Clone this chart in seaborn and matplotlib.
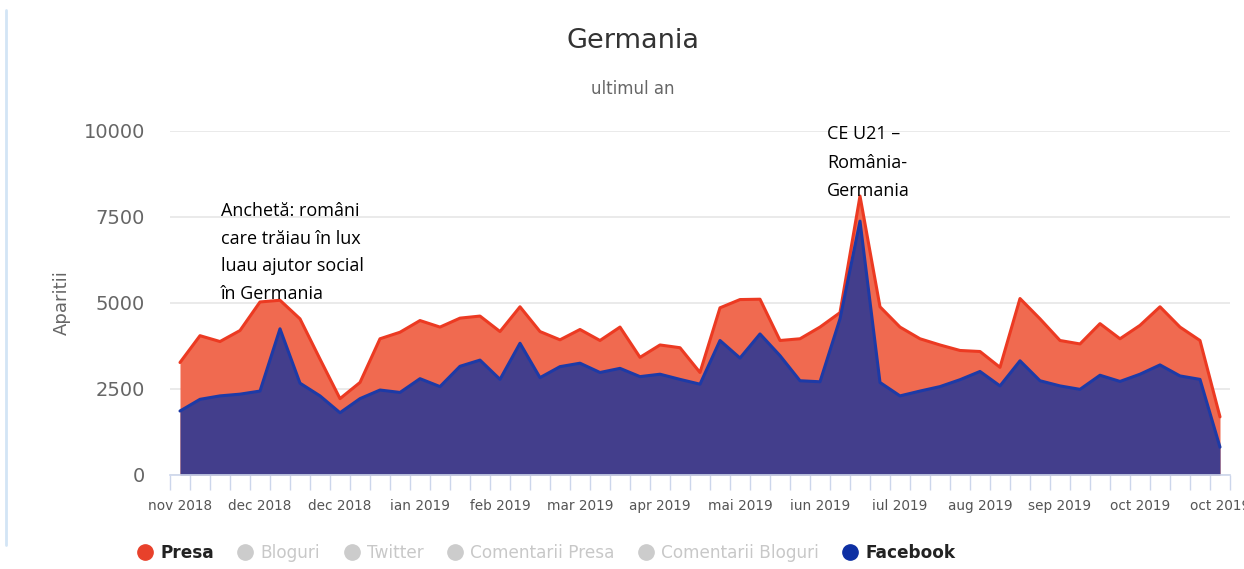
#!/usr/bin/env python3
"""Germania - aparitii pe ultimul an (Presa vs Facebook)."""

import matplotlib

matplotlib.use("Agg")

import matplotlib.pyplot as plt
import pandas as pd
import seaborn as sns
from matplotlib.lines import Line2D


MONTH_LABELS = [
    "nov 2018", "dec 2018", "dec 2018", "ian 2019", "feb 2019", "mar 2019", "apr 2019",
    "mai 2019", "iun 2019", "iul 2019", "aug 2019", "sep 2019", "oct 2019", "oct 2019",
]

# weekly values
PRESA = [
    3270, 4050, 3880, 4200, 5030, 5080, 4540, 3370, 2220, 2690,
    3960, 4150, 4490, 4300, 4560, 4620, 4170, 4890, 4170, 3930,
    4230, 3910, 4300, 3420, 3780, 3700, 2980, 4860, 5100, 5110,
    3910, 3960, 4300, 4720, 8110, 4890, 4300, 3960, 3780, 3620,
    3590, 3130, 5130, 4540, 3910, 3810, 4400, 3960, 4350, 4890,
    4300, 3910, 1690,
]
FACEBOOK = [
    1860, 2200, 2300, 2350, 2440, 4250, 2670, 2300, 1810, 2220,
    2470, 2400, 2800, 2570, 3160, 3340, 2780, 3830, 2830, 3150,
    3250, 2980, 3100, 2860, 2930, 2780, 2640, 3910, 3400, 4100,
    3470, 2740, 2710, 4540, 7380, 2690, 2300, 2440, 2570, 2770,
    3010, 2590, 3320, 2740, 2590, 2490, 2900, 2720, 2930, 3200,
    2880, 2780, 810,
]

Y_TICKS = [0, 2500, 5000, 7500, 10000]

LEGEND_ITEMS = [
    ("Presa", "#e8412b", True),
    ("Bloguri", "#cccccc", False),
    ("Twitter", "#cccccc", False),
    ("Comentarii Presa", "#cccccc", False),
    ("Comentarii Bloguri", "#cccccc", False),
    ("Facebook", "#0d2fa3", True),
]

NOTE_LEFT = ["Anchetă: români", "care trăiau în lux", "luau ajutor social", "în Germania"]
NOTE_PEAK = ["CE U21 –", "România-", "Germania"]

W, H = 1244, 569


def main() -> None:
    sns.set_theme(style="white")
    plt.rcParams["font.family"] = ["DejaVu Sans"]

    data = pd.DataFrame({"week": range(len(PRESA)), "presa": PRESA, "facebook": FACEBOOK})

    fig = plt.figure(figsize=(W / 100, H / 100), dpi=100)
    ax = fig.add_axes([170 / W, 1 - 475 / H, 1060 / W, 344 / H])

    ax.fill_between(data["week"], data["presa"], color="#f06a50", linewidth=0, zorder=2)
    sns.lineplot(data=data, x="week", y="presa", ax=ax, color="#ec3a22", linewidth=2.2, zorder=3)
    ax.fill_between(data["week"], data["facebook"], color="#433e8c", linewidth=0, zorder=4)
    sns.lineplot(data=data, x="week", y="facebook", ax=ax, color="#1d3aa6", linewidth=2.2, zorder=5)

    ax.set_xlim(-0.5, len(PRESA) - 0.5)
    ax.set_ylim(0, 10000)
    ax.set_yticks(Y_TICKS)
    ax.set_yticklabels([str(v) for v in Y_TICKS])
    ax.set_xticks(range(0, len(PRESA), 4))
    ax.set_xticklabels(MONTH_LABELS)
    ax.set_xticks([i - 0.5 for i in range(len(PRESA) + 1)], minor=True)

    ax.tick_params(axis="y", length=0, pad=18, labelsize=14, labelcolor="#666666")
    ax.tick_params(axis="x", which="major", length=0, pad=17, labelsize=9.8, labelcolor="#555555")
    ax.tick_params(axis="x", which="minor", length=11, width=1, color="#ccd6eb", bottom=True)

    ax.grid(axis="y", color="#e6e6e6", linewidth=1.2)
    ax.grid(axis="x", visible=False)
    for side in ["top", "right", "left"]:
        ax.spines[side].set_visible(False)
    ax.spines["bottom"].set_color("#ccd6eb")
    ax.spines["bottom"].set_linewidth(1.2)
    ax.spines["bottom"].set_zorder(6)

    ax.set_xlabel("")
    ax.set_ylabel("Aparitii", fontsize=13, color="#666666")
    ax.yaxis.set_label_coords(-0.094, 0.5)

    fig.text(633 / W, 1 - 41 / H, "Germania", ha="center", va="center", fontsize=19.5, color="#333333")
    fig.text(633 / W, 1 - 89 / H, "ultimul an", ha="center", va="center", fontsize=12, color="#666666")

    for i, line in enumerate(NOTE_LEFT):
        fig.text(221 / W, 1 - (216 + 27.7 * i) / H, line, ha="left", va="baseline",
                 fontsize=13, family=["Open Sans", "DejaVu Sans"], color="black", zorder=10)
    for i, line in enumerate(NOTE_PEAK):
        fig.text(827 / W, 1 - (139 + 28.5 * i) / H, line, ha="left", va="baseline",
                 fontsize=13, family=["Open Sans", "DejaVu Sans"], color="black", zorder=10)

    handles = [
        Line2D([], [], marker="o", linestyle="", markersize=11, markerfacecolor=c, markeredgecolor=c)
        for _, c, _ in LEGEND_ITEMS
    ]
    leg = fig.legend(
        handles,
        [name for name, _, _ in LEGEND_ITEMS],
        loc="center",
        bbox_to_anchor=(547 / W, 1 - 553 / H),
        ncol=len(LEGEND_ITEMS),
        frameon=False,
        fontsize=12.2,
        handlelength=0.8,
        handletextpad=0.5,
        columnspacing=1.45,
    )
    for text, (_, _, active) in zip(leg.get_texts(), LEGEND_ITEMS):
        if active:
            text.set_color("#222222")
            text.set_fontweight("bold")
        else:
            text.set_color("#c8c8c8")

    fig.add_artist(Line2D([6 / W, 6 / W], [1 - 10 / H, 1 - 545 / H], color="#d3e5f5", linewidth=2))

    fig.savefig("out.png", dpi=100)
    plt.close(fig)


if __name__ == "__main__":
    main()
